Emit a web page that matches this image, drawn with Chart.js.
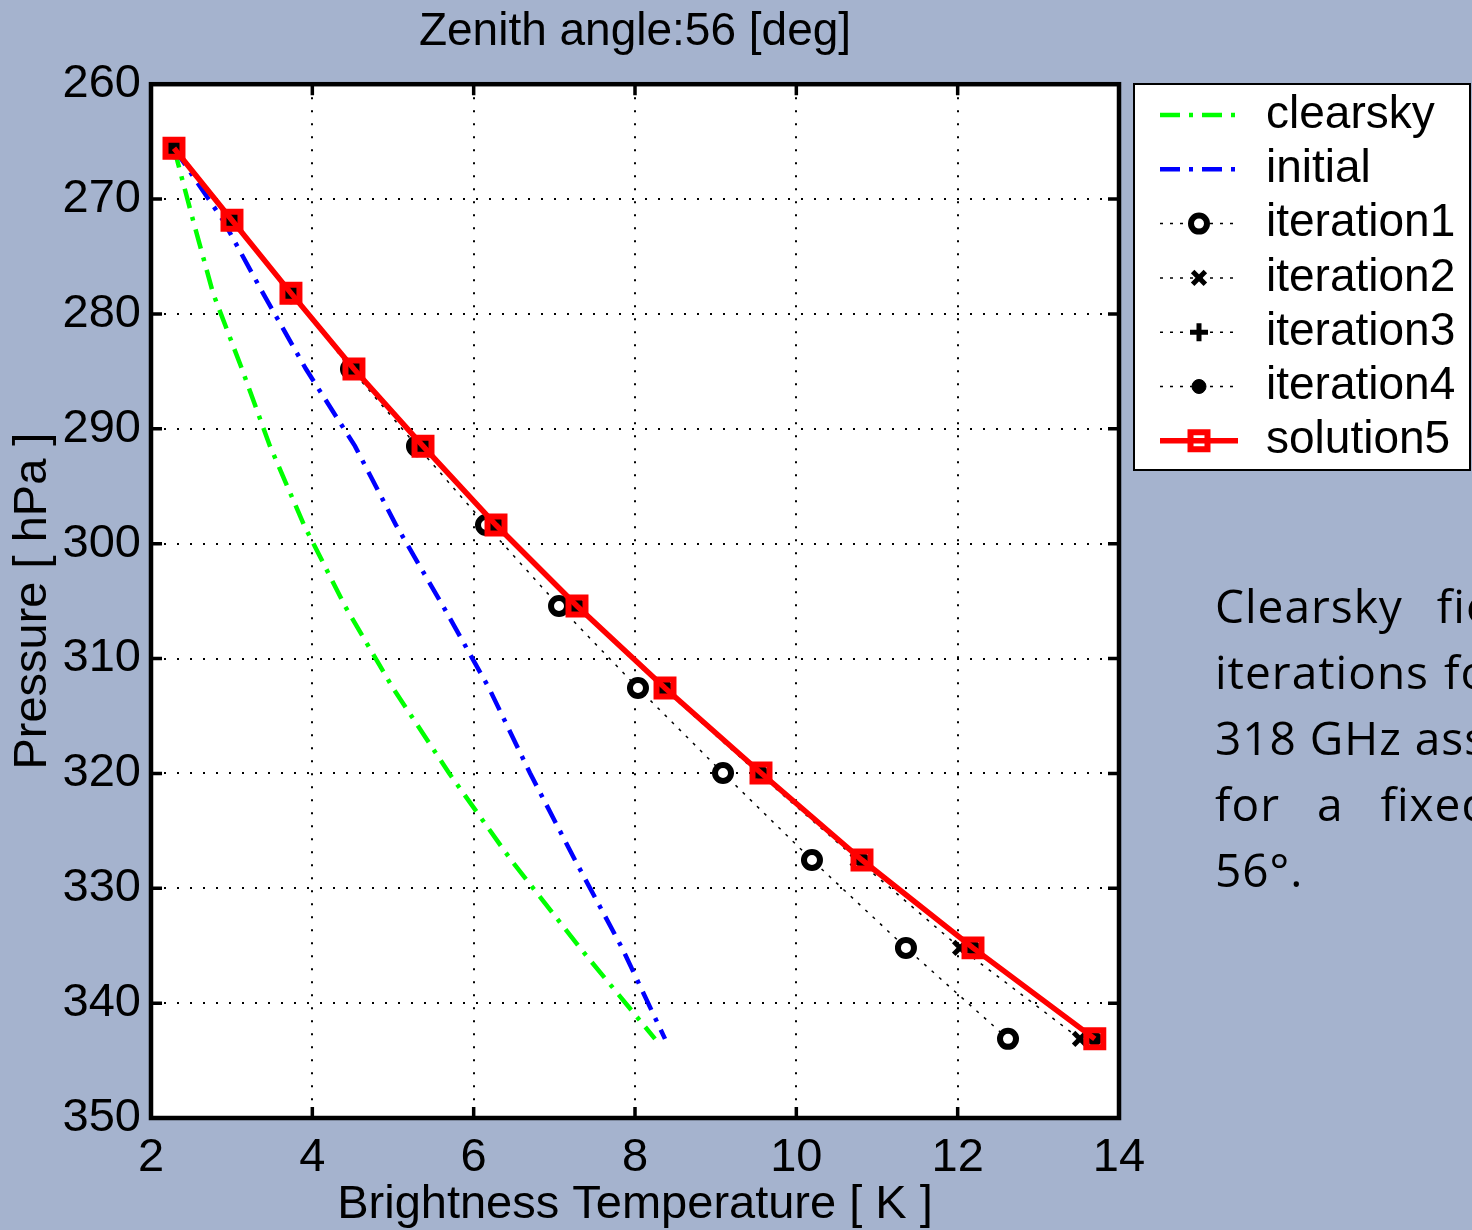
<!DOCTYPE html>
<html>
<head>
<meta charset="utf-8">
<title>Zenith angle 56</title>
<script src="https://cdn.jsdelivr.net/npm/chart.js@4/dist/chart.umd.min.js"></script>
<style>
  html, body { margin: 0; padding: 0; background: #a5b3ce; width: 1472px; height: 1230px; overflow: hidden; }
  #wrap { position: absolute; left: 0; top: 0; width: 1472px; height: 1230px; }
  #nota { position: absolute; left: 1215px; top: 572px; font-family: "Open Sans", sans-serif; font-size: 46px; letter-spacing: 1px; line-height: 66px; color: #000; white-space: nowrap; }
</style>
</head>
<body>
<div id="wrap"><canvas id="grafico" width="1472" height="1230"></canvas></div>
<div id="nota">
  <div style="word-spacing:21px">Clearsky field and</div>
  <div style="word-spacing:2px">iterations for the</div>
  <div style="word-spacing:0px">318 GHz assuming</div>
  <div style="word-spacing:24px">for a fixed zenith</div>
  <div>56°.</div>
</div>
<script>
// niveis de pressao [hPa] e temperaturas de brilho [K]
const niveisPressao = [265.57, 271.84, 278.19, 284.80, 291.51, 298.38, 305.43, 312.57, 319.97, 327.54, 335.19, 343.11];
const tbClearsky  = [2.285, 2.521, 2.769, 3.128, 3.475, 3.897, 4.405, 5.000, 5.694, 6.463, 7.318, 8.248];
const tbInitial   = [2.285, 2.893, 3.388, 3.921, 4.529, 5.037, 5.620, 6.190, 6.698, 7.256, 7.839, 8.372];
const tbIteracao1 = [2.285, 3.004, 3.735, 4.479, 5.297, 6.153, 7.058, 8.037, 9.091, 10.194, 11.359, 12.624];
const tbIteracao2 = [2.285, 3.004, 3.735, 4.510, 5.360, 6.262, 7.262, 8.345, 9.525, 10.760, 12.030, 13.516];
const tbIteracao3 = [2.285, 3.004, 3.735, 4.516, 5.371, 6.276, 7.280, 8.370, 9.559, 10.810, 12.185, 13.690];
const tbIteracao4 = [2.285, 3.004, 3.735, 4.516, 5.372, 6.277, 7.281, 8.372, 9.562, 10.814, 12.190, 13.700];
const tbSolucao5  = [2.285, 3.004, 3.735, 4.516, 5.372, 6.277, 7.281, 8.372, 9.562, 10.814, 12.190, 13.700];

const ticksX = [2, 4, 6, 8, 10, 12, 14];
const ticksY = [260, 270, 280, 290, 300, 310, 320, 330, 340, 350];

const FONTE = "'Liberation Sans', Arial, sans-serif";

function serie(nome, valores, estilo) {
    return Object.assign({
        label: nome,
        data: valores.map((tb, i) => ({ x: tb, y: niveisPressao[i] })),
        tension: 0,
        fill: false
    }, estilo);
}

const pontilhado = { borderColor: "#000", borderWidth: 1.5, borderDash: [3, 7] };

const datasets = [
    serie("clearsky", tbClearsky, { borderColor: "#00ff00", borderWidth: 4.5, borderDash: [20, 9, 4, 9], pointRadius: 0, order: 6 }),
    serie("initial", tbInitial, { borderColor: "#0000ff", borderWidth: 4.5, borderDash: [20, 9, 4, 9], pointRadius: 0, order: 5 }),
    serie("iteration1", tbIteracao1, Object.assign({}, pontilhado, { pointStyle: "circle", pointRadius: 8, pointBorderWidth: 6, pointBorderColor: "#000", pointBackgroundColor: "#fff", order: 4 })),
    serie("iteration2", tbIteracao2, Object.assign({}, pontilhado, { pointStyle: "crossRot", pointRadius: 9, pointBorderWidth: 5, pointBorderColor: "#000", pointBackgroundColor: "#000", order: 3 })),
    serie("iteration3", tbIteracao3, Object.assign({}, pontilhado, { pointStyle: "cross", pointRadius: 9, pointBorderWidth: 5, pointBorderColor: "#000", pointBackgroundColor: "#000", order: 2 })),
    serie("iteration4", tbIteracao4, Object.assign({}, pontilhado, { pointStyle: "circle", pointRadius: 7, pointBorderWidth: 1, pointBorderColor: "#000", pointBackgroundColor: "#000", order: 1 })),
    serie("solution5", tbSolucao5, { borderColor: "#ff0000", borderWidth: 5.5, pointStyle: "rect", pointRadius: 12, pointBorderWidth: 6, pointBorderColor: "#ff0000", pointBackgroundColor: "rgba(0,0,0,0)", order: 0 })
];

// fundo branco da area do grafico
const fundoPlugin = {
    id: "fundo",
    beforeDraw(chart) {
        const a = chart.chartArea;
        chart.ctx.save();
        chart.ctx.fillStyle = "#fff";
        chart.ctx.fillRect(a.left, a.top, a.right - a.left, a.bottom - a.top);
        chart.ctx.restore();
    }
};

// moldura estilo matlab com ticks para dentro
const molduraPlugin = {
    id: "moldura",
    afterDraw(chart) {
        const ctx = chart.ctx;
        const a = chart.chartArea;
        const sx = chart.scales.x, sy = chart.scales.y;
        ctx.save();
        ctx.strokeStyle = "#000";
        ctx.lineWidth = 3.5;
        ctx.beginPath();
        sx.ticks.forEach(t => {
            const px = sx.getPixelForValue(t.value);
            ctx.moveTo(px, a.bottom); ctx.lineTo(px, a.bottom - 11);
            ctx.moveTo(px, a.top); ctx.lineTo(px, a.top + 11);
        });
        sy.ticks.forEach(t => {
            const py = sy.getPixelForValue(t.value);
            ctx.moveTo(a.left, py); ctx.lineTo(a.left + 11, py);
            ctx.moveTo(a.right, py); ctx.lineTo(a.right - 11, py);
        });
        ctx.stroke();
        ctx.lineWidth = 4.5;
        ctx.strokeRect(a.left, a.top, a.right - a.left, a.bottom - a.top);
        ctx.restore();
    }
};

const legendaPlugin = {
    id: "legendaCaixa",
    afterDraw(chart) {
        const ctx = chart.ctx;
        ctx.save();
        ctx.fillStyle = "#fff";
        ctx.fillRect(1134, 84, 336, 386);
        ctx.strokeStyle = "#000";
        ctx.lineWidth = 2;
        ctx.strokeRect(1134, 84, 336, 386);
        chart.data.datasets.forEach((ds, i) => {
            const y = 115 + i * 54.3;
            ctx.strokeStyle = ds.borderColor;
            ctx.lineWidth = ds.borderWidth;
            ctx.setLineDash(ds.borderDash || []);
            ctx.beginPath();
            ctx.moveTo(1160, y);
            ctx.lineTo(1238, y);
            ctx.stroke();
            ctx.setLineDash([]);
            if (ds.pointRadius > 0 && Chart.helpers && Chart.helpers.drawPoint) {
                ctx.fillStyle = ds.pointBackgroundColor;
                ctx.strokeStyle = ds.pointBorderColor;
                ctx.lineWidth = ds.pointBorderWidth;
                Chart.helpers.drawPoint(ctx, {
                    pointStyle: ds.pointStyle,
                    radius: ds.pointRadius,
                    borderWidth: ds.pointBorderWidth,
                    rotation: 0
                }, 1199, y);
            }
            ctx.fillStyle = "#000";
            ctx.font = "46px " + FONTE;
            ctx.textBaseline = "middle";
            ctx.textAlign = "left";
            ctx.fillText(ds.label, 1266, y);
        });
        ctx.restore();
    }
};

function criarGrafico(canvasElement) {
    const ctx = canvasElement.getContext("2d");
    return new Chart(ctx, {
        type: "line",
        data: { datasets: datasets },
        options: {
            responsive: false,
            animation: false,
            devicePixelRatio: 1,
            layout: { padding: { left: 0, right: 353, top: 0, bottom: 0 } },
            plugins: {
                legend: { display: false },
                tooltip: { enabled: false },
                title: {
                    display: true,
                    fullSize: false,
                    text: "Zenith angle:56 [deg]",
                    color: "#000",
                    font: { family: FONTE, size: 46, weight: "normal" },
                    padding: { top: 5, bottom: 24 }
                }
            },
            scales: {
                x: {
                    type: "linear",
                    min: 2,
                    max: 14,
                    afterBuildTicks: s => { s.ticks = ticksX.map(v => ({ value: v })); },
                    afterFit: s => { s.height = 112; },
                    grid: { color: "#000", lineWidth: 2, drawTicks: false },
                    border: { display: false, dash: [2, 11] },
                    ticks: { color: "#000", padding: 12, maxRotation: 0, font: { family: FONTE, size: 47 } },
                    title: { display: true, text: "Brightness Temperature [ K ]", color: "#000", font: { family: FONTE, size: 47 }, padding: { top: 0, bottom: -3 } }
                },
                y: {
                    type: "linear",
                    reverse: true,
                    min: 260,
                    max: 350,
                    afterBuildTicks: s => { s.ticks = ticksY.map(v => ({ value: v })); },
                    afterFit: s => { s.width = 151; },
                    grid: { color: "#000", lineWidth: 2, drawTicks: false },
                    border: { display: false, dash: [2, 11] },
                    ticks: { color: "#000", padding: 10, font: { family: FONTE, size: 47 } },
                    title: { display: true, text: "Pressure [ hPa ]", color: "#000", font: { family: FONTE, size: 47 }, padding: { top: 5, bottom: 0 } }
                }
            }
        },
        plugins: [fundoPlugin, molduraPlugin, legendaPlugin]
    });
}

criarGrafico(document.getElementById("grafico"));
</script>
</body>
</html>
